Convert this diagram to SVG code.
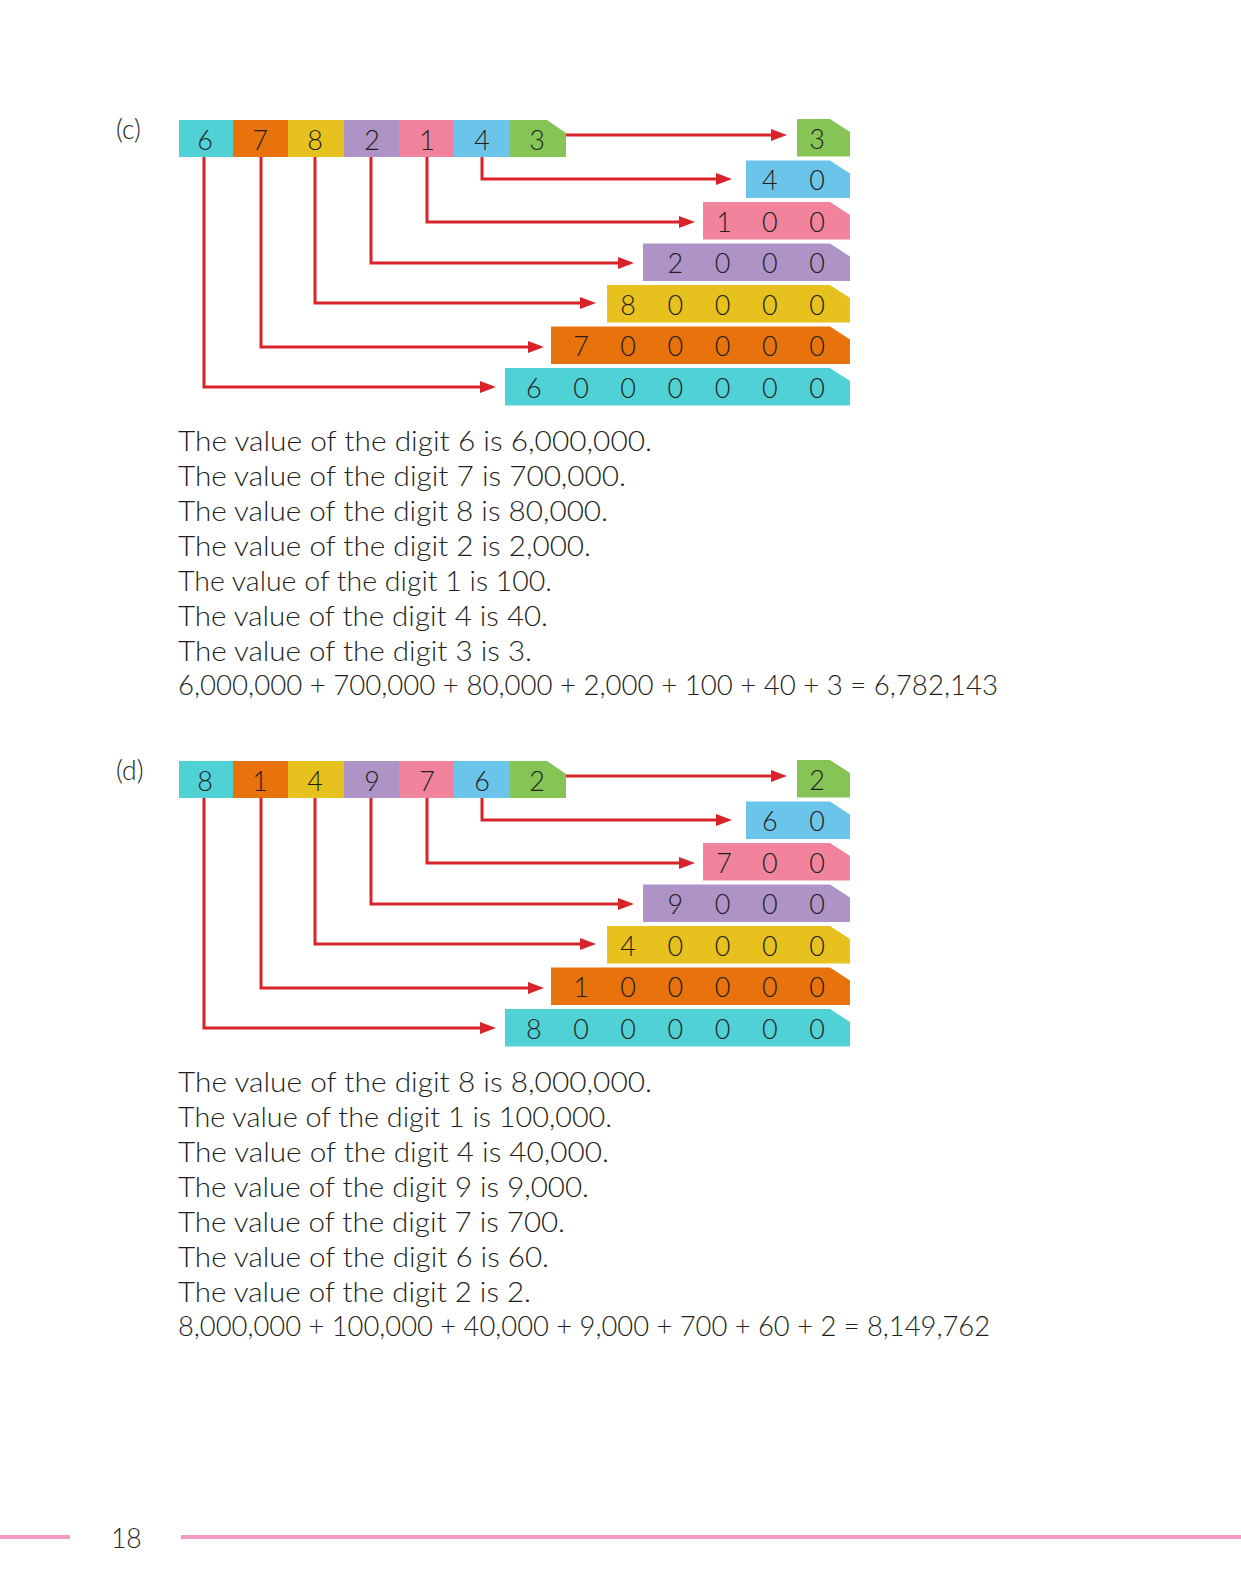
<svg xmlns="http://www.w3.org/2000/svg" width="1241" height="1595" viewBox="0 0 1241 1595">
<style>
.cy{fill:#4fd1d6}.or{fill:#e8720c}.ye{fill:#e7c21f}.pu{fill:#ae93c7}.pk{fill:#f1849c}.bl{fill:#6bc4e9}.gr{fill:#86c555}
.d{font-family:Lato,"Liberation Sans",sans-serif;font-weight:300;font-size:27px;fill:#231f20;text-anchor:middle}
.t{font-family:Lato,"Liberation Sans",sans-serif;font-weight:300;font-size:26.5px;fill:#231f20}
.c{fill:none;stroke:#d8232a;stroke-width:3}
</style>
<defs>
<marker id="ah" markerWidth="16" markerHeight="12" refX="4" refY="6" orient="auto" markerUnits="userSpaceOnUse"><path d="M0,0 L16,6 L0,12 Z" fill="#d8232a"/></marker>
</defs>
<rect width="1241" height="1595" fill="#fff"/>

<!-- ===== (c) ===== -->
<g id="c-section">
<text id="label-c" class="t" x="116" y="139" font-size="27">(c)</text>
<g id="c-top">
<g id="c-t6"><rect class="cy" x="179" y="120" width="54.5" height="37"/><text class="d" x="205" y="150">6</text></g>
<g id="c-t7"><rect class="or" x="233" y="120" width="55.5" height="37"/><text class="d" x="260" y="150">7</text></g>
<g id="c-t8"><rect class="ye" x="288" y="120" width="56.5" height="37"/><text class="d" x="315" y="150">8</text></g>
<g id="c-t2"><rect class="pu" x="344" y="120" width="55.5" height="37"/><text class="d" x="372" y="150">2</text></g>
<g id="c-t1"><rect class="pk" x="399" y="120" width="55.5" height="37"/><text class="d" x="427" y="150">1</text></g>
<g id="c-t4"><rect class="bl" x="454" y="120" width="56.5" height="37"/><text class="d" x="482" y="150">4</text></g>
<g id="c-t3"><path class="gr" d="M510,120 H547 L566,133 V157 H510 Z"/><text class="d" x="537" y="150">3</text></g>
</g>
<g id="c-connectors">
<path class="c" d="M566,135 H775" marker-end="url(#ah)"/>
<path class="c" d="M482,157 V179 H720" marker-end="url(#ah)"/>
<path class="c" d="M427,157 V222 H683" marker-end="url(#ah)"/>
<path class="c" d="M371,157 V263 H622" marker-end="url(#ah)"/>
<path class="c" d="M315,157 V303 H584" marker-end="url(#ah)"/>
<path class="c" d="M261,157 V347 H532" marker-end="url(#ah)"/>
<path class="c" d="M204,157 V387 H484" marker-end="url(#ah)"/>
</g>
<g id="c-v3"><path class="gr" d="M797,119 H830 L850,132 V156.5 H797 Z"/><text class="d" x="817" y="148.5">3</text></g>
<g id="c-v40"><path class="bl" d="M746,160.5 H830 L850,173.5 V198 H746 Z"/><text class="d" x="769.8" y="190">4</text><text class="d" x="817" y="190">0</text></g>
<g id="c-v100"><path class="pk" d="M703,202 H830 L850,215 V239.5 H703 Z"/><text class="d" x="724" y="231.5">1</text><text class="d" x="769.8" y="231.5">0</text><text class="d" x="817" y="231.5">0</text></g>
<g id="c-v2000"><path class="pu" d="M643,243.5 H830 L850,256.5 V281 H643 Z"/><text class="d" x="675.4" y="273">2</text><text class="d" x="722.6" y="273">0</text><text class="d" x="769.8" y="273">0</text><text class="d" x="817" y="273">0</text></g>
<g id="c-v80000"><path class="ye" d="M607,285 H830 L850,298 V322.5 H607 Z"/><text class="d" x="628.2" y="314.5">8</text><text class="d" x="675.4" y="314.5">0</text><text class="d" x="722.6" y="314.5">0</text><text class="d" x="769.8" y="314.5">0</text><text class="d" x="817" y="314.5">0</text></g>
<g id="c-v700000"><path class="or" d="M551,326.5 H830 L850,339.5 V364 H551 Z"/><text class="d" x="581" y="356">7</text><text class="d" x="628.2" y="356">0</text><text class="d" x="675.4" y="356">0</text><text class="d" x="722.6" y="356">0</text><text class="d" x="769.8" y="356">0</text><text class="d" x="817" y="356">0</text></g>
<g id="c-v6000000"><path class="cy" d="M505,368 H830 L850,381 V405.5 H505 Z"/><text class="d" x="533.8" y="397.5">6</text><text class="d" x="581" y="397.5">0</text><text class="d" x="628.2" y="397.5">0</text><text class="d" x="675.4" y="397.5">0</text><text class="d" x="722.6" y="397.5">0</text><text class="d" x="769.8" y="397.5">0</text><text class="d" x="817" y="397.5">0</text></g>
<g id="c-text" class="t">
<text x="178" y="451" textLength="474" lengthAdjust="spacingAndGlyphs">The value of the digit 6 is 6,000,000.</text>
<text x="178" y="486" textLength="448" lengthAdjust="spacingAndGlyphs">The value of the digit 7 is 700,000.</text>
<text x="178" y="521" textLength="430" lengthAdjust="spacingAndGlyphs">The value of the digit 8 is 80,000.</text>
<text x="178" y="556" textLength="413" lengthAdjust="spacingAndGlyphs">The value of the digit 2 is 2,000.</text>
<text x="178" y="591" textLength="374" lengthAdjust="spacingAndGlyphs">The value of the digit 1 is 100.</text>
<text x="178" y="626" textLength="370" lengthAdjust="spacingAndGlyphs">The value of the digit 4 is 40.</text>
<text x="178" y="661" textLength="354" lengthAdjust="spacingAndGlyphs">The value of the digit 3 is 3.</text>
<text x="178" y="695" textLength="820" lengthAdjust="spacingAndGlyphs">6,000,000 + 700,000 + 80,000 + 2,000 + 100 + 40 + 3 = 6,782,143</text>
</g>
</g>

<!-- ===== (d) ===== -->
<g id="d-section" transform="translate(0,641)">
<text id="label-d" class="t" x="116" y="139" font-size="27">(d)</text>
<g id="d-top">
<g id="d-t8"><rect class="cy" x="179" y="120" width="54.5" height="37"/><text class="d" x="205" y="150">8</text></g>
<g id="d-t1"><rect class="or" x="233" y="120" width="55.5" height="37"/><text class="d" x="260" y="150">1</text></g>
<g id="d-t4"><rect class="ye" x="288" y="120" width="56.5" height="37"/><text class="d" x="315" y="150">4</text></g>
<g id="d-t9"><rect class="pu" x="344" y="120" width="55.5" height="37"/><text class="d" x="372" y="150">9</text></g>
<g id="d-t7"><rect class="pk" x="399" y="120" width="55.5" height="37"/><text class="d" x="427" y="150">7</text></g>
<g id="d-t6"><rect class="bl" x="454" y="120" width="56.5" height="37"/><text class="d" x="482" y="150">6</text></g>
<g id="d-t2"><path class="gr" d="M510,120 H547 L566,133 V157 H510 Z"/><text class="d" x="537" y="150">2</text></g>
</g>
<g id="d-connectors">
<path class="c" d="M566,135 H775" marker-end="url(#ah)"/>
<path class="c" d="M482,157 V179 H720" marker-end="url(#ah)"/>
<path class="c" d="M427,157 V222 H683" marker-end="url(#ah)"/>
<path class="c" d="M371,157 V263 H622" marker-end="url(#ah)"/>
<path class="c" d="M315,157 V303 H584" marker-end="url(#ah)"/>
<path class="c" d="M261,157 V347 H532" marker-end="url(#ah)"/>
<path class="c" d="M204,157 V387 H484" marker-end="url(#ah)"/>
</g>
<g id="d-v2"><path class="gr" d="M797,119 H830 L850,132 V156.5 H797 Z"/><text class="d" x="817" y="148.5">2</text></g>
<g id="d-v60"><path class="bl" d="M746,160.5 H830 L850,173.5 V198 H746 Z"/><text class="d" x="769.8" y="190">6</text><text class="d" x="817" y="190">0</text></g>
<g id="d-v700"><path class="pk" d="M703,202 H830 L850,215 V239.5 H703 Z"/><text class="d" x="724" y="231.5">7</text><text class="d" x="769.8" y="231.5">0</text><text class="d" x="817" y="231.5">0</text></g>
<g id="d-v9000"><path class="pu" d="M643,243.5 H830 L850,256.5 V281 H643 Z"/><text class="d" x="675.4" y="273">9</text><text class="d" x="722.6" y="273">0</text><text class="d" x="769.8" y="273">0</text><text class="d" x="817" y="273">0</text></g>
<g id="d-v40000"><path class="ye" d="M607,285 H830 L850,298 V322.5 H607 Z"/><text class="d" x="628.2" y="314.5">4</text><text class="d" x="675.4" y="314.5">0</text><text class="d" x="722.6" y="314.5">0</text><text class="d" x="769.8" y="314.5">0</text><text class="d" x="817" y="314.5">0</text></g>
<g id="d-v100000"><path class="or" d="M551,326.5 H830 L850,339.5 V364 H551 Z"/><text class="d" x="581" y="356">1</text><text class="d" x="628.2" y="356">0</text><text class="d" x="675.4" y="356">0</text><text class="d" x="722.6" y="356">0</text><text class="d" x="769.8" y="356">0</text><text class="d" x="817" y="356">0</text></g>
<g id="d-v8000000"><path class="cy" d="M505,368 H830 L850,381 V405.5 H505 Z"/><text class="d" x="533.8" y="397.5">8</text><text class="d" x="581" y="397.5">0</text><text class="d" x="628.2" y="397.5">0</text><text class="d" x="675.4" y="397.5">0</text><text class="d" x="722.6" y="397.5">0</text><text class="d" x="769.8" y="397.5">0</text><text class="d" x="817" y="397.5">0</text></g>
<g id="d-text" class="t">
<text x="178" y="451" textLength="474" lengthAdjust="spacingAndGlyphs">The value of the digit 8 is 8,000,000.</text>
<text x="178" y="486" textLength="434" lengthAdjust="spacingAndGlyphs">The value of the digit 1 is 100,000.</text>
<text x="178" y="521" textLength="431" lengthAdjust="spacingAndGlyphs">The value of the digit 4 is 40,000.</text>
<text x="178" y="556" textLength="411" lengthAdjust="spacingAndGlyphs">The value of the digit 9 is 9,000.</text>
<text x="178" y="591" textLength="387" lengthAdjust="spacingAndGlyphs">The value of the digit 7 is 700.</text>
<text x="178" y="626" textLength="371" lengthAdjust="spacingAndGlyphs">The value of the digit 6 is 60.</text>
<text x="178" y="661" textLength="353" lengthAdjust="spacingAndGlyphs">The value of the digit 2 is 2.</text>
<text x="178" y="695" textLength="812" lengthAdjust="spacingAndGlyphs">8,000,000 + 100,000 + 40,000 + 9,000 + 700 + 60 + 2 = 8,149,762</text>
</g>
</g>

<!-- footer -->
<g id="footer">
<rect x="0" y="1535" width="70" height="4" fill="#f29ac2"/>
<text class="t" x="111" y="1548" font-size="25">18</text>
<rect x="181" y="1535" width="1060" height="4" fill="#f29ac2"/>
</g>
</svg>
